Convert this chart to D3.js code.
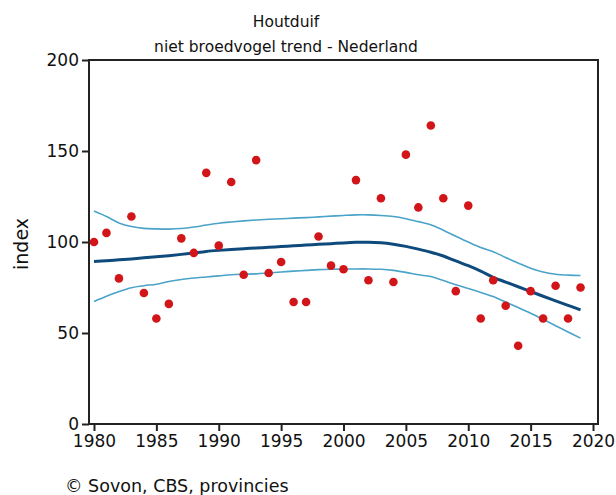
<!DOCTYPE html>
<html>
<head>
<meta charset="UTF-8">
<title>Houtduif</title>
<script src="https://d3js.org/d3.v7.min.js"></script>
<style>
  body { margin: 0; background: #fff; }
  text { font-family: "DejaVu Sans", sans-serif; fill: #111; }
</style>
</head>
<body>
<div id="chart"></div>
<script>
// yearly index values (dots)
var years = d3.range(1980, 2020);
var indexValues = [100, 105, 80, 114, 72, 58, 66, 102, 94, 138,
                   98, 133, 82, 145, 83, 89, 67, 67, 103, 87,
                   85, 134, 79, 124, 78, 148, 119, 164, 124, 73,
                   120, 58, 79, 65, 43, 73, 58, 76, 58, 75];
// smoothed trend and its confidence band
var trend = [89.3, 89.7, 90.2, 90.7, 91.3, 91.9, 92.5, 93.2, 94.0, 94.8,
             95.4, 95.9, 96.3, 96.7, 97.1, 97.5, 97.9, 98.3, 98.7, 99.1,
             99.5, 99.8, 99.9, 99.6, 98.8, 97.6, 96.1, 94.4, 92.3, 89.6,
             87.0, 84.0, 80.6, 78.0, 75.4, 72.8, 70.2, 67.7, 65.2, 62.7];
var upper = [117, 114, 110.5, 108.5, 107.5, 107.2, 107.1, 107.4, 108.2, 109.3,
             110.3, 111, 111.6, 112.1, 112.5, 112.8, 113.1, 113.4, 113.8, 114.2,
             114.6, 114.9, 114.9, 114.6, 114, 112.8, 111.2, 109.5, 106.5, 103.2,
             100, 97, 94.7, 91.5, 88.5, 85.6, 83.5, 82.3, 81.8, 81.6];
var lower = [67.3, 70.2, 72.8, 74.9, 76, 76.8, 78.3, 79.4, 80.2, 80.8,
             81.4, 82, 82.3, 82.5, 83, 83.5, 84, 84.4, 84.8, 85,
             85.1, 85.2, 85.2, 85, 84.4, 83.3, 82, 81, 78.8, 76.5,
             74.4, 72.3, 70, 67, 64, 60.9, 57.5, 54, 50.6, 47.2];
var xTicks = d3.range(1980, 2021, 5);
var yTicks = [0, 50, 100, 150, 200];

var width = 616, height = 495;
var plotLeft = 89, plotTop = 60, plotRight = 598, plotBottom = 424;

var svg = d3.select("#chart").append("svg")
    .attr("width", width)
    .attr("height", height);

var x = d3.scaleLinear().domain([1979.6, 2020.4]).range([plotLeft, plotRight]);
var y = d3.scaleLinear().domain([0, 200]).range([plotBottom, plotTop]);

// titles
svg.append("text").attr("x", 286).attr("y", 27)
    .attr("text-anchor", "middle").attr("font-size", 15.5).text("Houtduif");
svg.append("text").attr("x", 286).attr("y", 52)
    .attr("text-anchor", "middle").attr("font-size", 15.5)
    .text("niet broedvogel trend - Nederland");

// frame
svg.append("rect")
    .attr("x", plotLeft).attr("y", plotTop)
    .attr("width", plotRight - plotLeft).attr("height", plotBottom - plotTop)
    .attr("fill", "none").attr("stroke", "#222").attr("stroke-width", 2);

// axes
var xAxis = svg.append("g")
    .attr("transform", "translate(0," + plotBottom + ")")
    .call(d3.axisBottom(x).tickValues(xTicks).tickFormat(d3.format("d"))
        .tickSize(7).tickPadding(4));
var yAxis = svg.append("g")
    .attr("transform", "translate(" + plotLeft + ",0)")
    .call(d3.axisLeft(y).tickValues(yTicks).tickSize(7).tickPadding(3));
[xAxis, yAxis].forEach(function(g) {
  g.select(".domain").remove();
  g.selectAll("line").attr("stroke", "#222").attr("stroke-width", 2);
  g.selectAll("text").attr("font-size", 17)
      .style("font-family", "DejaVu Sans, sans-serif").attr("fill", "#111");
});
yAxis.selectAll("text").attr("dy", "0.3em");

svg.append("text")
    .attr("transform", "translate(28,244) rotate(-90)")
    .attr("text-anchor", "middle").attr("font-size", 19).text("index");

// lines
var line = function(vals) {
  return d3.line()
      .x(function(d, i) { return x(years[i]); })
      .y(function(d) { return y(d); })
      .curve(d3.curveCatmullRom.alpha(0.5))(vals);
};
svg.append("path").attr("d", line(upper))
    .attr("fill", "none").attr("stroke", "#4aa3c8").attr("stroke-width", 1.6);
svg.append("path").attr("d", line(lower))
    .attr("fill", "none").attr("stroke", "#4aa3c8").attr("stroke-width", 1.6);
svg.append("path").attr("d", line(trend))
    .attr("fill", "none").attr("stroke", "#0e4a7c").attr("stroke-width", 3);

// dots
svg.selectAll("circle.pt")
    .data(indexValues)
    .enter()
    .append("circle")
    .attr("class", "pt")
    .attr("cx", function(d, i) { return x(years[i]); })
    .attr("cy", function(d) { return y(d); })
    .attr("r", 4.3)
    .attr("fill", "#d21519");

// source
svg.append("text").attr("x", 65).attr("y", 492)
    .attr("font-size", 17.5).text("© Sovon, CBS, provincies");
</script>
</body>
</html>
